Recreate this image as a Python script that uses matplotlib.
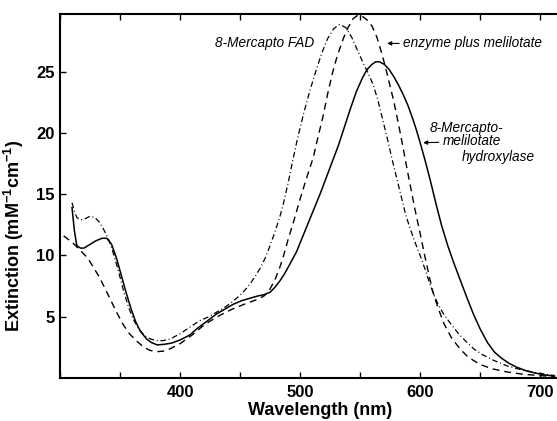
import matplotlib
matplotlib.use("Agg")
import matplotlib.pyplot as plt
from matplotlib.ticker import MultipleLocator

plt.rcParams['font.family'] = ['Liberation Sans', 'DejaVu Sans']
plt.rcParams['mathtext.fontset'] = 'custom'
plt.rcParams['mathtext.rm'] = 'Liberation Sans:bold'
plt.rcParams['mathtext.bf'] = 'Liberation Sans:bold'

# 8-Mercapto-melilotate hydroxylase (solid)
wl_hyd = [310, 312, 314, 317, 320, 325, 330, 335, 339, 343, 347, 351, 355, 359,
          363, 367, 372, 376, 381, 387, 393, 400, 408, 415, 422, 430, 437, 444,
          451, 458, 465, 470, 475, 479, 483, 487, 491, 497, 502, 507, 512, 517,
          522, 527, 532, 537, 542, 547, 552, 556, 560, 563, 566, 570, 574, 578,
          582, 586, 590, 594, 597, 600, 604, 608, 611, 614, 618, 623, 628, 633,
          638, 644, 650, 656, 662, 668, 674, 680, 688, 696, 704, 712]
ext_hyd = [13.9, 12.0, 10.8, 10.6, 10.6, 10.9, 11.2, 11.4, 11.4, 10.9, 9.8, 8.4,
           7.0, 5.7, 4.6, 3.8, 3.2, 2.9, 2.7, 2.75, 2.85, 3.1, 3.5, 4.1, 4.6, 5.2,
           5.6, 6.0, 6.3, 6.5, 6.7, 6.8, 7.0, 7.4, 7.9, 8.5, 9.2, 10.3, 11.5, 12.7,
           13.9, 15.1, 16.4, 17.7, 19.0, 20.5, 22.0, 23.4, 24.5, 25.2, 25.6, 25.8,
           25.8, 25.6, 25.2, 24.6, 23.9, 23.1, 22.2, 21.1, 20.2, 19.2, 17.8, 16.3,
           15.1, 13.9, 12.4, 10.8, 9.4, 8.1, 6.8, 5.3, 4.0, 2.9, 2.1, 1.6, 1.2, 0.9,
           0.6, 0.4, 0.25, 0.15]

# enzyme plus melilotate (dashed)
wl_enz = [303, 307, 312, 317, 323, 328, 333, 338, 343, 348, 353, 358, 364, 370,
          375, 381, 387, 392, 400, 410, 419, 426, 433, 443, 453, 464, 470, 474,
          479, 483, 486, 490, 495, 500, 505, 511, 515, 519, 523, 527, 531, 536,
          540, 544, 548, 552, 556, 560, 564, 568, 571, 574, 578, 582, 585, 589,
          592, 596, 600, 604, 608, 611, 615, 620, 626, 633, 640, 650, 660, 672,
          686, 700, 712]
ext_enz = [11.6, 11.3, 10.9, 10.4, 9.8, 9.0, 8.2, 7.2, 6.2, 5.2, 4.3, 3.6, 3.0,
           2.5, 2.25, 2.15, 2.2, 2.4, 2.8, 3.5, 4.25, 4.7, 5.1, 5.6, 6.0, 6.4, 6.7,
           7.1, 8.0, 9.0, 9.9, 11.3, 12.9, 14.6, 16.2, 18.0, 19.7, 21.3, 23.2, 24.9,
           26.3, 27.7, 28.6, 29.3, 29.6, 29.5, 29.2, 28.7, 27.8, 26.5, 25.4, 24.2,
           22.6, 20.7, 19.2, 17.1, 15.6, 13.6, 11.8, 9.9, 8.1, 6.9, 5.7, 4.4, 3.3,
           2.4, 1.7, 1.1, 0.75, 0.5, 0.3, 0.2, 0.1]

# 8-Mercapto FAD (dash-dot)
wl_fad = [310, 312, 314, 317, 321, 325, 329, 333, 337, 341, 345, 349, 353, 357,
          361, 365, 370, 375, 380, 386, 392, 399, 406, 412, 417, 424, 431, 437,
          442, 447, 452, 457, 462, 467, 471, 475, 479, 483, 486, 490, 494, 498,
          503, 508, 513, 518, 523, 528, 533, 538, 543, 548, 553, 557, 561, 565,
          569, 573, 577, 581, 585, 588, 592, 596, 600, 604, 608, 611, 615, 619,
          623, 628, 633, 639, 645, 652, 661, 672, 683, 695, 705, 712]
ext_fad = [14.3, 13.6, 13.1, 12.9, 13.0, 13.2, 13.1, 12.7, 12.0, 11.2, 10.0, 8.6,
           7.1, 5.8, 4.8, 4.1, 3.5, 3.2, 3.05, 3.05, 3.2, 3.55, 4.0, 4.4, 4.7, 5.0,
           5.4, 5.75, 6.1, 6.5, 6.95, 7.5, 8.2, 9.0, 9.8, 10.8, 11.9, 13.1, 14.2,
           15.9, 17.8, 19.6, 21.6, 23.4, 25.0, 26.5, 27.7, 28.5, 28.85, 28.6, 27.8,
           26.7, 25.6, 24.8, 23.9, 22.6, 21.0, 19.4, 17.7, 16.1, 14.5, 13.3, 12.1,
           11.0, 10.0, 8.9, 7.7, 6.9, 6.0, 5.3, 4.75, 4.1, 3.5, 2.9, 2.35, 1.9, 1.45,
           1.0, 0.7, 0.45, 0.3, 0.2]

x_ticks = [400, 500, 600, 700]
y_ticks = [5, 10, 15, 20, 25]

fig = plt.figure(figsize=(5.57, 4.21), dpi=100)
ax = fig.add_axes([60 / 557, 1 - 378 / 421, 497 / 557, 364 / 421])

ax.plot(wl_hyd, ext_hyd, color='black', lw=1.1)
ax.plot(wl_enz, ext_enz, color='black', lw=1.0, dashes=(5, 3.5))
ax.plot(wl_fad, ext_fad, color='black', lw=0.9, dashes=(4.5, 2.2, 0.8, 2.2))

ax.set_xlim(300, 714)
ax.set_ylim(0, 29.7)

ax.set_xticks(x_ticks)
ax.xaxis.set_minor_locator(MultipleLocator(50))
ax.set_yticks(y_ticks)
ax.tick_params(axis='both', which='both', direction='in', length=4, width=1,
               top=True, right=False, labelsize=12, pad=5)
ax.tick_params(axis='y', pad=4)
for lab in ax.get_xticklabels() + ax.get_yticklabels():
    lab.set_fontweight('bold')

for side in ['left', 'bottom', 'top']:
    ax.spines[side].set_linewidth(1.5)
ax.spines['right'].set_visible(False)

ax.set_xlabel('Wavelength (nm)', fontsize=13, fontweight='bold')
ax.xaxis.set_label_coords(0.524, -0.066)
ax.set_ylabel('Extinction (mM$^{-1}$cm$^{-1}$)', fontsize=13, fontweight='bold')
ax.yaxis.set_label_coords(-0.068, 0.39)

ann_style = dict(fontsize=9.8, style='italic')
ax.text(429, 27.3, '8-Mercapto FAD', va='center', ha='left', **ann_style)
ax.annotate('enzyme plus melilotate', xy=(572.5, 27.3), xytext=(586, 27.3),
            va='center', ha='left',
            arrowprops=dict(arrowstyle='-|>', lw=0.8, color='black',
                            mutation_scale=6, shrinkA=1, shrinkB=0),
            **ann_style)
ax.text(608, 20.4, '8-Mercapto-', va='center', ha='left', **ann_style)
ax.annotate('melilotate', xy=(602.5, 19.2), xytext=(619, 19.3),
            va='center', ha='left',
            arrowprops=dict(arrowstyle='-|>', lw=0.8, color='black',
                            mutation_scale=6, shrinkA=1, shrinkB=0),
            **ann_style)
ax.text(635, 18.0, 'hydroxylase', va='center', ha='left', **ann_style)

fig.savefig('out.png', dpi=100)
